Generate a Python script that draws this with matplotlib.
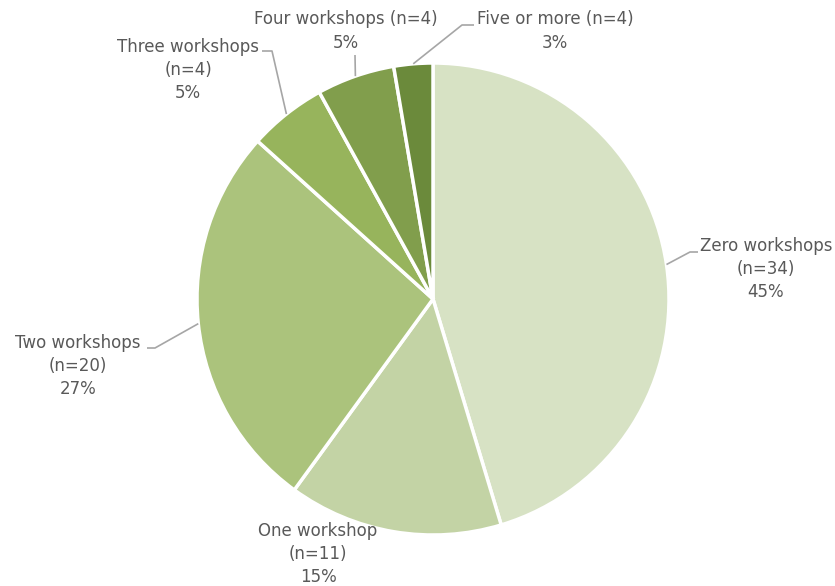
import numpy as np
import matplotlib
matplotlib.use("Agg")
import matplotlib.pyplot as plt

# Workshop attendance counts (slices drawn clockwise from 12 o'clock)
categories = ["Zero workshops", "One workshop", "Two workshops",
              "Three workshops", "Four workshops", "Five or more"]
counts = [34, 11, 20, 4, 4, 2]
n_labels = ["(n=34)", "(n=11)", "(n=20)", "(n=4)", "(n=4)", "(n=4)"]
pct_labels = ["45%", "15%", "27%", "5%", "5%", "3%"]

colors = ["#D7E2C4", "#C3D3A5", "#ABC37C", "#97B45C", "#819E4C", "#6B8A3B"]
text_color = "#595959"
line_color = "#A6A6A6"

W, H = 835, 586
fig = plt.figure(figsize=(W / 100, H / 100), dpi=100)
ax = fig.add_axes([0, 0, 1, 1])

cx, cy, R = 433, H - 299, 236
wedges, _ = ax.pie(counts, colors=colors, startangle=90, counterclock=False,
                   center=(cx, cy), radius=R, frame=True,
                   wedgeprops=dict(edgecolor="white", linewidth=2.5))
ax.set_xlim(0, W)
ax.set_ylim(0, H)
ax.set_aspect("equal")
ax.axis("off")


def edge_point(w):
    mid = np.deg2rad((w.theta1 + w.theta2) / 2)
    return cx + R * np.cos(mid), cy + R * np.sin(mid)


# label centre (px from top-left), name/count on one line?, leader elbow points
layout = [
    ((766, 269), False, [(690, 252), (698, 252)]),
    ((318, 554), False, None),
    ((78, 366), False, [(155, 348), (147, 348)]),
    ((188, 70), False, [(272, 51), (262, 51)]),
    ((346, 31), True, [(355, 55)]),
    ((555, 31), True, [(462, 25), (474, 25)]),
]

for i, w in enumerate(wedges):
    (tx, ty), one_line, elbow = layout[i]
    sep = " " if one_line else "\n"
    label = f"{categories[i]}{sep}{n_labels[i]}\n{pct_labels[i]}"
    ax.text(tx, H - ty, label, ha="center", va="center", multialignment="center",
            fontsize=12, color=text_color, linespacing=1.38,
            family="DejaVu Sans")
    if elbow:
        x0, y0 = edge_point(w)
        xs = [x0] + [p[0] for p in elbow]
        ys = [y0] + [H - p[1] for p in elbow]
        ax.plot(xs, ys, color=line_color, linewidth=1.2, solid_capstyle="butt")

fig.savefig("out.png", dpi=100)
